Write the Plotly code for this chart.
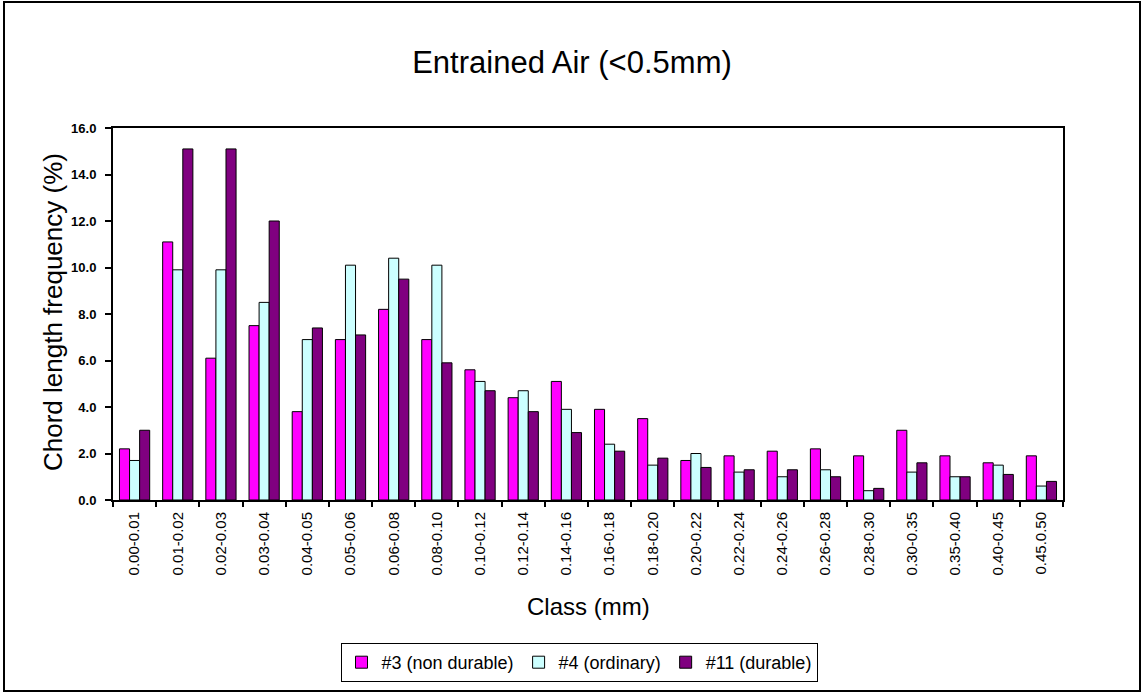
import plotly.graph_objects as go

categories = ["0.00-0.01", "0.01-0.02", "0.02-0.03", "0.03-0.04", "0.04-0.05", "0.05-0.06",
              "0.06-0.08", "0.08-0.10", "0.10-0.12", "0.12-0.14", "0.14-0.16", "0.16-0.18",
              "0.18-0.20", "0.20-0.22", "0.22-0.24", "0.24-0.26", "0.26-0.28", "0.28-0.30",
              "0.30-0.35", "0.35-0.40", "0.40-0.45", "0.45.0.50"]

s3_non_durable = [2.2, 11.1, 6.1, 7.5, 3.8, 6.9, 8.2, 6.9, 5.6, 4.4, 5.1, 3.9,
                  3.5, 1.7, 1.9, 2.1, 2.2, 1.9, 3.0, 1.9, 1.6, 1.9]
s4_ordinary = [1.7, 9.9, 9.9, 8.5, 6.9, 10.1, 10.4, 10.1, 5.1, 4.7, 3.9, 2.4,
               1.5, 2.0, 1.2, 1.0, 1.3, 0.4, 1.2, 1.0, 1.5, 0.6]
s11_durable = [3.0, 15.1, 15.1, 12.0, 7.4, 7.1, 9.5, 5.9, 4.7, 3.8, 2.9, 2.1,
               1.8, 1.4, 1.3, 1.3, 1.0, 0.5, 1.6, 1.0, 1.1, 0.8]

series_names = ["#3 (non durable)", "#4 (ordinary)", "#11 (durable)"]
series_values = [s3_non_durable, s4_ordinary, s11_durable]
series_colors = ["#FF00FF", "#CCFFFF", "#800080"]

y_ticks = [0, 2, 4, 6, 8, 10, 12, 14, 16]

FONT = "Liberation Sans, Arial, sans-serif"
W, H = 1144, 693
L, R, T, B = 113, 81, 128, 193
pw, ph = W - L - R, H - T - B

fig = go.Figure()
for name, vals, col in zip(series_names, series_values, series_colors):
    fig.add_trace(go.Bar(
        x=categories, y=vals, name=name,
        marker=dict(color=col, line=dict(color="black", width=1)),
    ))

def px_to_paper_x(px):
    return (px - L) / pw

def px_to_paper_y(py):
    return (H - B - py) / ph

fig.update_layout(
    width=W, height=H,
    margin=dict(l=L, r=R, t=T, b=B, autoexpand=False),
    paper_bgcolor="white", plot_bgcolor="white",
    barmode="group", bargap=0.3, bargroupgap=0,
    font=dict(family=FONT, color="black"),
    title=dict(text="Entrained Air (&lt;0.5mm)", x=572 / W, xanchor="center",
               xref="container", y=1 - 62 / H, yanchor="middle", yref="container",
               font=dict(size=31, family=FONT, color="black")),
    showlegend=True,
    legend=dict(orientation="h", x=px_to_paper_x(579), xanchor="center",
                y=px_to_paper_y(643), yanchor="top",
                bordercolor="black", borderwidth=1, bgcolor="white",
                font=dict(size=18, family=FONT, color="black"),
                itemwidth=30, tracegroupgap=0, traceorder="normal"),
    xaxis=dict(
        type="category", showline=True, linecolor="black", linewidth=2, mirror=True,
        ticks="outside", tickson="boundaries", ticklen=5, tickcolor="black", tickwidth=2,
        tickangle=-90, tickfont=dict(size=15, family=FONT, color="black"),
        ticklabelstandoff=4,
        showgrid=False, automargin=False,
    ),
    yaxis=dict(
        range=[0, 16], tickvals=y_ticks, tickformat=".1f",
        showline=True, linecolor="black", linewidth=2, mirror=True,
        ticks="outside", ticklen=6, tickcolor="black", tickwidth=2,
        tickfont=dict(size=13, family=FONT, color="black", weight="bold"),
        ticklabelstandoff=6,
        showgrid=False, zeroline=False, automargin=False,
    ),
    annotations=[
        dict(text="Class (mm)", xref="paper", yref="paper",
             x=px_to_paper_x(588), y=px_to_paper_y(606),
             xanchor="center", yanchor="middle", showarrow=False,
             font=dict(size=24, family=FONT, color="black")),
        dict(text="Chord length frequency (%)", xref="paper", yref="paper",
             x=px_to_paper_x(53), y=px_to_paper_y(312), textangle=-90,
             xanchor="center", yanchor="middle", showarrow=False,
             font=dict(size=26, family=FONT, color="black")),
    ],
    shapes=[dict(type="rect", xref="paper", yref="paper",
                 x0=px_to_paper_x(4), x1=px_to_paper_x(1140),
                 y0=px_to_paper_y(691), y1=px_to_paper_y(2),
                 line=dict(color="black", width=2), fillcolor="rgba(0,0,0,0)",
                 layer="below")],
)

fig.write_html("out.html")
